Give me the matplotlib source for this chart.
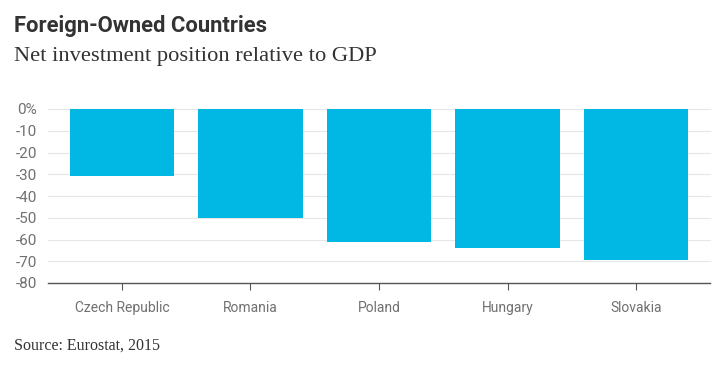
import numpy as np
import matplotlib
matplotlib.use("Agg")
import matplotlib.pyplot as plt

countries = ["Czech Republic", "Romania", "Poland", "Hungary", "Slovakia"]
net_position = [-31, -50, -61, -64, -69.5]
yticks = [0, -10, -20, -30, -40, -50, -60, -70, -80]
ylabels = ["0%", "-10", "-20", "-30", "-40", "-50", "-60", "-70", "-80"]

W, H = 722, 366
fig = plt.figure(figsize=(W / 100, H / 100), dpi=100)
fig.patch.set_facecolor("white")

# axes box in pixels: x 48..710, y 109..283
ax = fig.add_axes([48 / W, 1 - 283 / H, (710 - 48) / W, (283 - 109) / H])
x = np.arange(len(countries))
ax.bar(x, net_position, width=0.81, color="#00b8e3", zorder=2)

ax.set_xlim(-0.575, len(countries) - 1 + 0.575)
ax.set_ylim(-80, 0)
ax.set_yticks(yticks)
ax.set_yticklabels(ylabels)
ax.set_xticks(x)
ax.set_xticklabels(countries)

for y in yticks[:-1]:
    ax.axhline(y, color="#e6e6e6", lw=0.8, zorder=1, clip_on=False)

for s in ["top", "right", "left"]:
    ax.spines[s].set_visible(False)
ax.spines["bottom"].set_color("#555555")
ax.spines["bottom"].set_linewidth(1.0)

ax.tick_params(axis="y", length=0, pad=8, labelsize=11, labelcolor="#707070")
ax.tick_params(axis="x", length=5, width=0.8, color="#555555", pad=8,
               labelsize=10, labelcolor="#707070")
for lab in ax.get_xticklabels() + ax.get_yticklabels():
    lab.set_family("Roboto")

fig.text(14 / W, 1 - 26 / H, "Foreign-Owned Countries", family="Roboto",
         fontsize=15.8, fontweight="bold", color="#333333", va="center", ha="left")
fig.text(14 / W, 1 - 56 / H, "Net investment position relative to GDP",
         family="Liberation Serif", fontsize=16.2, color="#333333", va="center", ha="left")
fig.text(14 / W, 1 - 346 / H, "Source: Eurostat, 2015",
         family="Liberation Serif", fontsize=11.5, color="#333333", va="center", ha="left")

fig.savefig("out.png", dpi=100, facecolor="white")
